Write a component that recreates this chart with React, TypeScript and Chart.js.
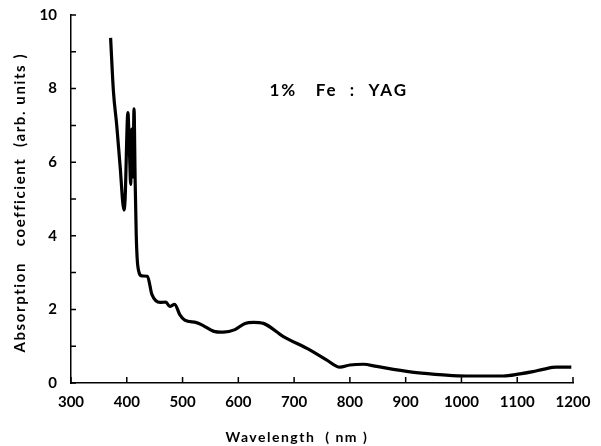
import React, { useEffect, useRef } from "react";
import { Chart, registerables } from "chart.js";

Chart.register(...registerables);

const wavelengths = [371, 376, 382, 388, 395, 397, 402, 405, 407, 409, 411, 413, 415, 417, 420, 427, 437, 445, 460, 470, 477, 486, 495, 504, 525, 537, 555, 573, 594, 612, 627, 645, 680, 728, 758, 782, 800, 824, 848, 878, 919, 967, 1009, 1075, 1105, 1128, 1146, 1170, 1197];
const absorption = [9.38, 7.94, 7.0, 5.9, 4.7, 5.0, 7.35, 6.2, 5.4, 6.9, 5.6, 7.45, 5.5, 4.0, 3.15, 2.91, 2.9, 2.41, 2.19, 2.2, 2.08, 2.14, 1.86, 1.71, 1.64, 1.56, 1.41, 1.38, 1.45, 1.62, 1.65, 1.62, 1.27, 0.9, 0.63, 0.43, 0.49, 0.51, 0.45, 0.37, 0.28, 0.22, 0.19, 0.19, 0.25, 0.31, 0.37, 0.43, 0.43];

const xTicks = [300, 400, 500, 600, 700, 800, 900, 1000, 1100, 1200];
const yTicks = [0, 1, 2, 3, 4, 5, 6, 7, 8, 9, 10];
const yLabelled = [0, 2, 4, 6, 8, 10];

const xTitle = "Wavelength  ( nm )";
const yTitle = "Absorption   coefficient  (arb. units )";
const annotationText = "1%   Fe  :  YAG";
const annotationAt = { x: 780, y: 7.95 };

const FONT = "Lato, 'DejaVu Sans', sans-serif";

const inwardTicks = {
  id: "inwardTicks",
  afterDraw(chart: any) {
    const { ctx, chartArea, scales } = chart;
    const xs = scales.x;
    const ys = scales.y;
    ctx.save();
    ctx.strokeStyle = "#000";
    ctx.lineWidth = 1.5;
    ctx.beginPath();
    xTicks.forEach((v) => {
      const px = xs.getPixelForValue(v);
      ctx.moveTo(px, chartArea.bottom);
      ctx.lineTo(px, chartArea.bottom - 6);
    });
    yTicks.forEach((v) => {
      const py = ys.getPixelForValue(v);
      ctx.moveTo(chartArea.left, py);
      ctx.lineTo(chartArea.left + 5, py);
    });
    ctx.stroke();
    ctx.fillStyle = "#000";
    ctx.textAlign = "center";
    ctx.textBaseline = "middle";
    // annotation
    ctx.font = `bold 17px ${FONT}`;
    (ctx as any).letterSpacing = "2px";
    ctx.fillText(annotationText, xs.getPixelForValue(annotationAt.x), ys.getPixelForValue(annotationAt.y));
    // x title
    ctx.font = `bold 14px ${FONT}`;
    (ctx as any).letterSpacing = "1.5px";
    ctx.fillText(xTitle, xs.getPixelForValue(705), 437);
    // y title
    ctx.save();
    ctx.translate(20, ys.getPixelForValue(4.9));
    ctx.rotate(-Math.PI / 2);
    ctx.font = `bold 15px ${FONT}`;
    (ctx as any).letterSpacing = "1.6px";
    ctx.fillText(yTitle, 0, 0);
    ctx.restore();
    ctx.restore();
  },
};

export default function App() {
  const ref = useRef<HTMLCanvasElement>(null);
  useEffect(() => {
    document.body.style.margin = "0";
    const chart = new Chart(ref.current!, {
      type: "line",
      data: {
        datasets: [
          {
            data: wavelengths.map((w, i) => ({ x: w, y: absorption[i] })),
            borderColor: "#000",
            borderWidth: 3.2,
            pointRadius: 0,
            cubicInterpolationMode: "monotone",
            fill: false,
          },
        ],
      },
      options: {
        animation: false,
        responsive: false,
        maintainAspectRatio: false,
        layout: { padding: { top: 13, right: 28, left: 0, bottom: 0 } },
        plugins: { legend: { display: false }, tooltip: { enabled: false } },
        scales: {
          x: {
            type: "linear",
            min: 300,
            max: 1200,
            afterBuildTicks: (s: any) => {
              s.ticks = xTicks.map((v) => ({ value: v }));
            },
            afterFit: (s: any) => {
              s.height = 63;
            },
            grid: { display: false },
            border: { display: true, color: "#000", width: 1.5 },
            ticks: {
              color: "#000",
              font: { family: FONT, size: 15, weight: "bold" },
              padding: 2,
              maxRotation: 0,
              autoSkip: false,
              callback: (v: any) => String(v),
            },
          },
          y: {
            type: "linear",
            min: 0,
            max: 10,
            afterBuildTicks: (s: any) => {
              s.ticks = yTicks.map((v) => ({ value: v }));
            },
            afterFit: (s: any) => {
              s.width = 71;
            },
            grid: { display: false },
            border: { display: true, color: "#000", width: 1.5 },
            ticks: {
              color: "#000",
              font: { family: FONT, size: 15, weight: "bold" },
              padding: 6,
              autoSkip: false,
              callback: (v: any) => (yLabelled.includes(Number(v)) ? String(v) : ""),
            },
          },
        },
      },
      plugins: [inwardTicks],
    });
    return () => chart.destroy();
  }, []);
  return (
    <div style={{ position: "absolute", left: 0, top: 0, width: 601, height: 446 }}>
      <canvas ref={ref} width={601} height={446} style={{ width: 601, height: 446 }} />
    </div>
  );
}
